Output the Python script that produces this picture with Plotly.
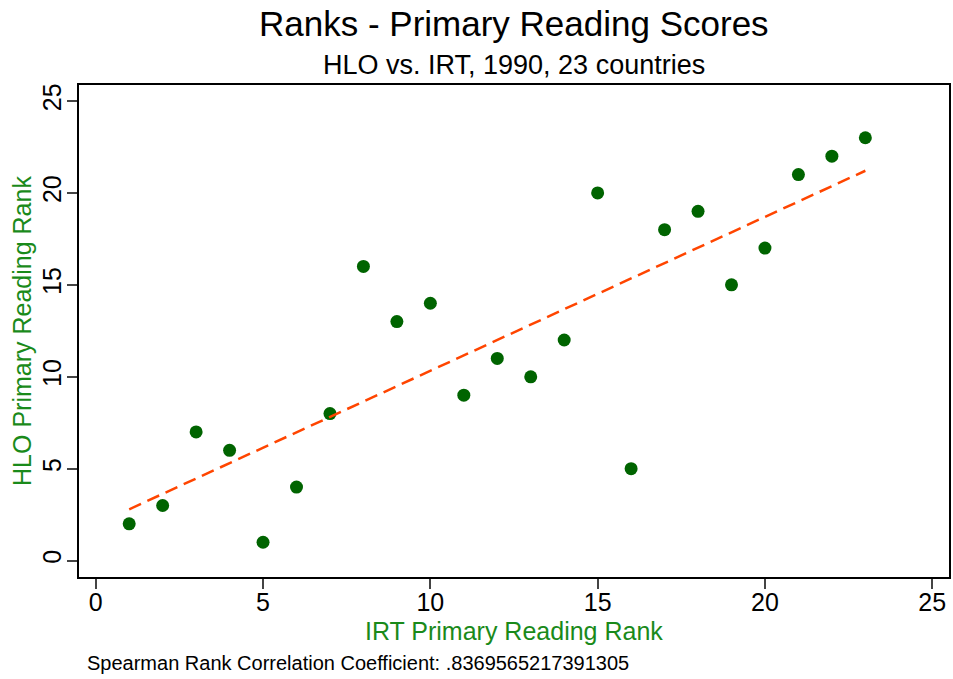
import numpy as np
import plotly.graph_objects as go

irt_rank = [1, 2, 3, 4, 5, 6, 7, 8, 9, 10, 11, 12, 13, 14, 15, 16, 17, 18, 19, 20, 21, 22, 23]
hlo_rank = [2, 3, 7, 6, 1, 4, 8, 16, 13, 14, 9, 11, 10, 12, 20, 5, 18, 19, 15, 17, 21, 22, 23]

title = 'Ranks - Primary Reading Scores'
subtitle = 'HLO vs. IRT, 1990, 23 countries'
note = 'Spearman Rank Correlation Coefficient: .8369565217391305'

FONT = 'Liberation Sans, Arial, Helvetica, sans-serif'
GREEN_TXT = '#1a8a1a'

# linear fit of HLO rank on IRT rank
slope, icpt = np.polyfit(irt_rank, hlo_rank, 1)
fit_x = [min(irt_rank), max(irt_rank)]
fit_y = [icpt + slope * v for v in fit_x]

fig = go.Figure()
fig.add_trace(go.Scatter(
    x=irt_rank, y=hlo_rank, mode='markers',
    marker=dict(size=13, color='#006400'),
    showlegend=False,
))
fig.add_trace(go.Scatter(
    x=fit_x, y=fit_y, mode='lines',
    line=dict(color='#ff4500', width=2.5, dash='13px,7px'),
    showlegend=False,
))

axis_common = dict(
    showgrid=False, zeroline=False,
    showline=True, linecolor='black', linewidth=1.5, mirror=True,
    ticks='outside', ticklen=10, tickcolor='#444', tickwidth=1.5,
    tickfont=dict(size=25, color='black', family=FONT),
    tickvals=[0, 5, 10, 15, 20, 25],
)

fig.update_layout(
    width=953, height=679,
    margin=dict(l=79, r=2, t=85, b=102),
    plot_bgcolor='white', paper_bgcolor='white',
    font=dict(family=FONT, color='black'),
    xaxis=dict(range=[-0.5, 25.5], ticklabelstandoff=-8, **axis_common),
    yaxis=dict(range=[-0.89, 25.87], tickangle=-90, ticklabelstandoff=-4, **axis_common),
    annotations=[
        dict(text=title, x=0.5 * (79 + 951) / 953 * 953 / 872 - 79 / 872, xref='paper', xanchor='center',
             y=1 + (85 - 24) / 492, yref='paper', yanchor='middle',
             showarrow=False, font=dict(size=35, color='black')),
        dict(text=subtitle, x=0.5 * (79 + 951) / 953 * 953 / 872 - 79 / 872, xref='paper', xanchor='center',
             y=1 + (85 - 65) / 492, yref='paper', yanchor='middle',
             showarrow=False, font=dict(size=27, color='black')),
        dict(text='IRT Primary Reading Rank', x=12.5, xref='x', xanchor='center',
             y=-(631 - 577) / 492, yref='paper', yanchor='middle',
             showarrow=False, font=dict(size=25, color=GREEN_TXT)),
        dict(text='HLO Primary Reading Rank', x=-(79 - 22) / 872, xref='paper', xanchor='center',
             y=12.5, yref='y', yanchor='middle', textangle=-90,
             showarrow=False, font=dict(size=25, color=GREEN_TXT)),
        dict(text=note, x=-(79 - 85) / 872, xref='paper', xanchor='left',
             y=-(663 - 577) / 492, yref='paper', yanchor='middle',
             showarrow=False, font=dict(size=20, color='black')),
    ],
)

fig.write_html('out.html', config={'displayModeBar': False},
               post_script="document.body.style.margin='0';")
